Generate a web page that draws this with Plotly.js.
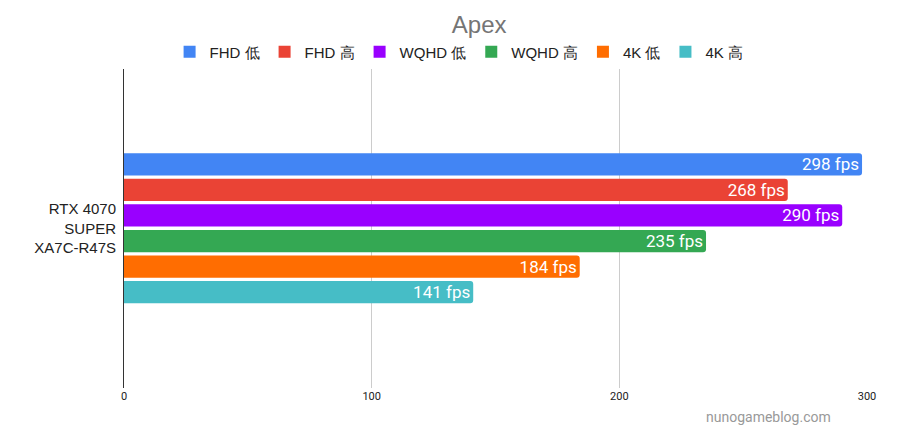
<!DOCTYPE html>
<html>
<head>
<meta charset="utf-8">
<script src="https://cdn.plot.ly/plotly-3.0.1.min.js"></script>
<style>html,body{margin:0;padding:0;background:#fff;}#chart{width:898px;height:430px;}</style>
</head>
<body>
<div id="chart"></div>
<script>
const category = ["RTX 4070<br>SUPER<br>XA7C-R47S"];
const seriesNames = ["FHD 低", "FHD 高", "WQHD 低", "WQHD 高", "4K 低", "4K 高"];
const fhdLow = [298];
const fhdHigh = [268];
const wqhdLow = [290];
const wqhdHigh = [235];
const k4Low = [184];
const k4High = [141];
const seriesValues = [fhdLow, fhdHigh, wqhdLow, wqhdHigh, k4Low, k4High];
const colors = ["#4285f4", "#ea4335", "#9900ff", "#34a853", "#ff6d01", "#46bdc6"];
const xTicks = [0, 100, 200, 300];

const barTraces = seriesNames.map((name, i) => ({
  type: "bar",
  orientation: "h",
  name: name,
  showlegend: false,
  y: category,
  x: seriesValues[i],
  marker: {color: colors[i]},
  texttemplate: "%{x} fps",
  textposition: "inside",
  insidetextanchor: "end",
  constraintext: "none",
  textfont: {family: "Roboto", size: 17, color: "#ffffff"},
  hoverinfo: "none"
}));

// legend proxies (square swatches)
const legendTraces = seriesNames.map((name, i) => ({
  type: "scatter",
  mode: "markers",
  name: name,
  x: [null],
  y: [null],
  marker: {color: colors[i], symbol: "square", size: 12},
  hoverinfo: "none"
}));

const layout = {
  width: 898, height: 430,
  margin: {l: 124, r: 31, t: 68, b: 42},
  paper_bgcolor: "#fff", plot_bgcolor: "#fff",
  font: {family: "Liberation Sans, Arial", color: "#222"},
  title: {text: "Apex", font: {family: "Liberation Sans, Arial", size: 24, color: "#757575"},
          xref: "paper", x: 0.478, xanchor: "center", yref: "container", y: 0.942, yanchor: "middle"},
  legend: {orientation: "h", x: 0.451, xanchor: "center", xref: "paper",
           yref: "container", y: 0.879, yanchor: "middle",
           font: {family: "Liberation Sans, Arial", size: 15, color: "#222"}, traceorder: "normal"},
  barmode: "group",
  bargap: 0.52,
  bargroupgap: 0.13,
  barcornerradius: 3,
  xaxis: {range: [0, 300], tickvals: xTicks, ticktext: xTicks.map(String),
          showgrid: true, gridcolor: "#cccccc", zeroline: false, showline: false,
          ticks: "", tickfont: {family: "Roboto", size: 11, color: "#222"}, fixedrange: true},
  yaxis: {autorange: "reversed", showline: true, linecolor: "#333", linewidth: 1,
          ticks: "", showgrid: false, zeroline: false, ticklabelstandoff: 4,
          tickfont: {family: "Liberation Sans, Arial", size: 15, color: "#222"}, fixedrange: true},
  annotations: [{text: "nunogameblog.com", xref: "paper", yref: "paper", x: 0.867, y: -0.09,
                 xanchor: "center", yanchor: "middle", showarrow: false,
                 font: {family: "Roboto", size: 14, color: "#999999"}}]
};

Plotly.newPlot("chart", barTraces.concat(legendTraces), layout, {displayModeBar: false, staticPlot: true});
</script>
</body>
</html>
